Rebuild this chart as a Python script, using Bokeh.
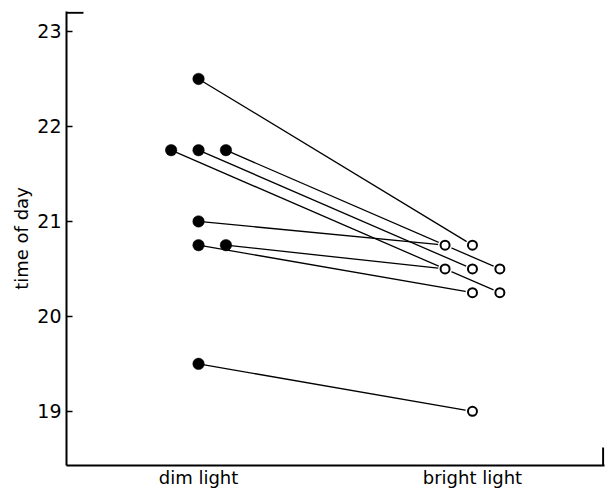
from bokeh.plotting import figure
from bokeh.models import Range1d, FixedTicker
from bokeh.embed import file_html
from bokeh.resources import INLINE

# ---- data ----
conditions = ["dim light", "bright light"]
condition_x = [1, 2]
# onset time (hour of day) for each subject, dim vs bright light
dim_onset = [22.5, 21.75, 21.75, 21.75, 21.0, 20.75, 20.75, 19.5]
bright_onset = [20.75, 20.25, 20.5, 20.5, 20.75, 20.25, 20.5, 19.0]
# side-by-side placement of coincident points (left = -1, centre = 0, right = +1)
dim_slot = [0, -1, 0, 1, 0, 0, 1, 0]
bright_slot = [0, 1, 0, 1, -1, 0, -1, 0]
y_ticks = [19, 20, 21, 22, 23]

# ---- layout constants ----
JIT = 0.1
X_START, X_END = 0.518, 2.482
Y_START, Y_END = 18.43, 23.21
FONT = "DejaVu Sans"

dim_x = [condition_x[0] + s * JIT for s in dim_slot]
bright_x = [condition_x[1] + s * JIT for s in bright_slot]

p = figure(width=605, height=490, output_backend="svg", toolbar_location=None,
           x_range=Range1d(X_START, X_END), y_range=Range1d(Y_START, Y_END),
           min_border_left=66, min_border_top=11, min_border_right=1, min_border_bottom=25)
p.outline_line_color = None
p.xgrid.visible = False
p.ygrid.visible = False
p.background_fill_color = "white"
p.border_fill_color = "white"

# y axis
ya = p.yaxis[0]
ya.ticker = FixedTicker(ticks=y_ticks)
ya.minor_tick_line_color = None
ya.major_tick_in = 6
ya.major_tick_out = 0
ya.major_tick_line_width = 1.5
ya.major_tick_line_color = "black"
ya.axis_line_width = 2
ya.axis_line_color = "black"
ya.major_label_standoff = 5
ya.major_label_text_font = FONT
ya.major_label_text_font_size = "19px"
ya.major_label_text_color = "black"
ya.axis_label = "time of day"
ya.axis_label_text_font = FONT
ya.axis_label_text_font_size = "18px"
ya.axis_label_text_font_style = "normal"
ya.axis_label_text_color = "black"
ya.axis_label_standoff = 2

# x axis: condition names, no tick marks
xa = p.xaxis[0]
xa.ticker = FixedTicker(ticks=condition_x)
xa.major_label_overrides = {cx: name for cx, name in zip(condition_x, conditions)}
xa.minor_tick_line_color = None
xa.major_tick_out = 0
xa.major_tick_in = 0
xa.axis_line_width = 2
xa.axis_line_color = "black"
xa.major_label_standoff = 1
xa.major_label_text_font = FONT
xa.major_label_text_font_size = "18px"
xa.major_label_text_color = "black"

# frame corner stubs
p.segment(x0=[X_START], y0=[Y_END - 0.012], x1=[X_START + 0.062], y1=[Y_END - 0.012],
          line_color="black", line_width=2)
p.segment(x0=[X_END - 0.005], y0=[Y_START], x1=[X_END - 0.005], y1=[Y_START + 0.19],
          line_color="black", line_width=2)

# connecting lines
p.segment(x0=dim_x, y0=dim_onset, x1=bright_x, y1=bright_onset,
          line_color="black", line_width=1.3)

# dim light points (filled)
p.scatter(dim_x, dim_onset, size=11.5, marker="circle",
          fill_color="black", line_color="black", line_width=0.5)

# bright light points (open) with a small white halo
p.scatter(bright_x, bright_onset, size=14, marker="circle",
          fill_color="white", line_color=None)
p.scatter(bright_x, bright_onset, size=9, marker="circle",
          fill_color="white", line_color="black", line_width=2)

open("out.html", "w").write(file_html(p, INLINE))
